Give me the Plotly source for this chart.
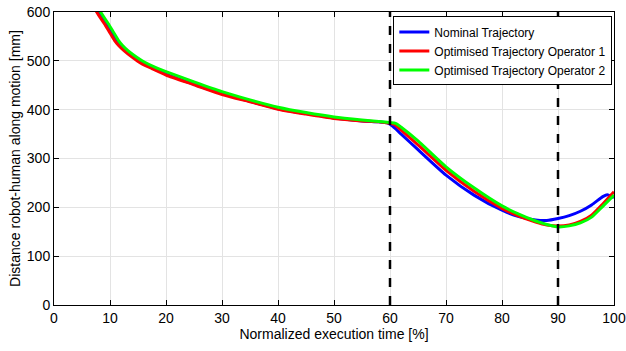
import plotly.graph_objects as go

# Nominal trajectory
nom_x = [7.3, 8.3, 9.3, 10.3, 11.1, 11.8, 12.8, 14.3, 15.8, 17.8, 20, 25, 30, 35, 40, 45, 50, 55, 58, 59.5,
         60.5, 62, 65, 70, 75, 80, 83, 86, 88, 90, 92, 94, 96, 98, 98.8, 100]
nom_y = [612, 593, 576, 557, 542, 532, 521, 507, 495, 484, 473, 452, 433, 417, 402, 392, 383, 377, 375, 373,
         366, 350, 318, 266, 225, 194, 181, 174, 173, 177, 183, 192, 205, 222, 226, 220]

# Optimised trajectory operator 1
op1_x = [7.0, 8, 9, 10, 10.8, 11.5, 12.5, 14, 15.5, 17.5, 20, 25, 30, 35, 40, 45, 50, 55, 58, 60,
         60.8, 62, 65, 70, 75, 80, 83, 86, 88, 90, 92, 94, 96, 98, 100]
op1_y = [612, 593, 576, 557, 542, 532, 521, 507, 495, 484, 471, 451, 431, 416, 401, 391, 382, 377, 375, 372,
         370, 358, 328, 276, 233, 198, 182, 170, 164, 162, 164, 171, 184, 207, 232]

# Optimised trajectory operator 2
op2_x = [7.7, 8.7, 9.7, 10.7, 11.5, 12.2, 13.2, 14.7, 16.2, 18, 20, 25, 30, 35, 40, 45, 50, 55, 58, 61,
         62, 65, 70, 75, 80, 83, 86, 88, 90, 92, 94, 96, 98, 100]
op2_y = [612, 593, 576, 557, 542, 532, 521, 508, 497, 487, 478, 457, 437, 420, 405, 394, 385, 379, 376, 372,
         364, 336, 283, 240, 203, 186, 172, 165, 160, 162, 168, 180, 202, 225]

vlines_x = [60, 90]
x_ticks = [0, 10, 20, 30, 40, 50, 60, 70, 80, 90, 100]
y_ticks = [0, 100, 200, 300, 400, 500, 600]

FONT = "Liberation Sans, Arial, Helvetica, sans-serif"

fig = go.Figure()

series = [
    ("Nominal Trajectory", nom_x, nom_y, "#0000FF"),
    ("Optimised Trajectory Operator 1", op1_x, op1_y, "#FF0000"),
    ("Optimised Trajectory Operator 2", op2_x, op2_y, "#00FF00"),
]
for name, xs, ys, col in series:
    fig.add_trace(go.Scatter(x=xs, y=ys, mode="lines", name=name,
                             line=dict(color=col, width=3, shape="spline", smoothing=0.6)))

for vx in vlines_x:
    fig.add_trace(go.Scatter(x=[vx, vx], y=[0, 600], mode="lines",
                             line=dict(color="black", width=2.5, dash="9px,9px"),
                             showlegend=False, hoverinfo="skip"))

axis_common = dict(showline=True, linecolor="black", linewidth=1, mirror="ticks",
                   ticks="inside", ticklen=5, tickcolor="black", automargin=False,
                   showgrid=True, gridcolor="#E3E3E3", gridwidth=1, zeroline=False,
                   tickfont=dict(size=14, color="black", family=FONT))

fig.update_xaxes(range=[0, 100], tickvals=x_ticks,
                 title=dict(text="Normalized execution time [%]", font=dict(size=14, color="black", family=FONT), standoff=2),
                 **axis_common)
fig.update_yaxes(range=[0, 600], tickvals=y_ticks, ticklabelstandoff=0,
                 title=dict(text="Distance robot-human along motion [mm]", font=dict(size=14, color="black", family=FONT), standoff=2),
                 **axis_common)

fig.update_layout(
    width=626, height=351,
    margin=dict(l=54, r=12, t=12, b=46),
    plot_bgcolor="white", paper_bgcolor="white",
    font=dict(family=FONT, color="black"),
    legend=dict(x=0.997, y=0.985, xanchor="right", yanchor="top",
                bgcolor="white", bordercolor="black", borderwidth=1,
                font=dict(size=12, color="black", family=FONT),
                itemwidth=30, tracegroupgap=0),
)

fig.write_html("out.html", config={"displayModeBar": False},
               post_script="document.body.style.margin='0';document.body.style.padding='0';")
